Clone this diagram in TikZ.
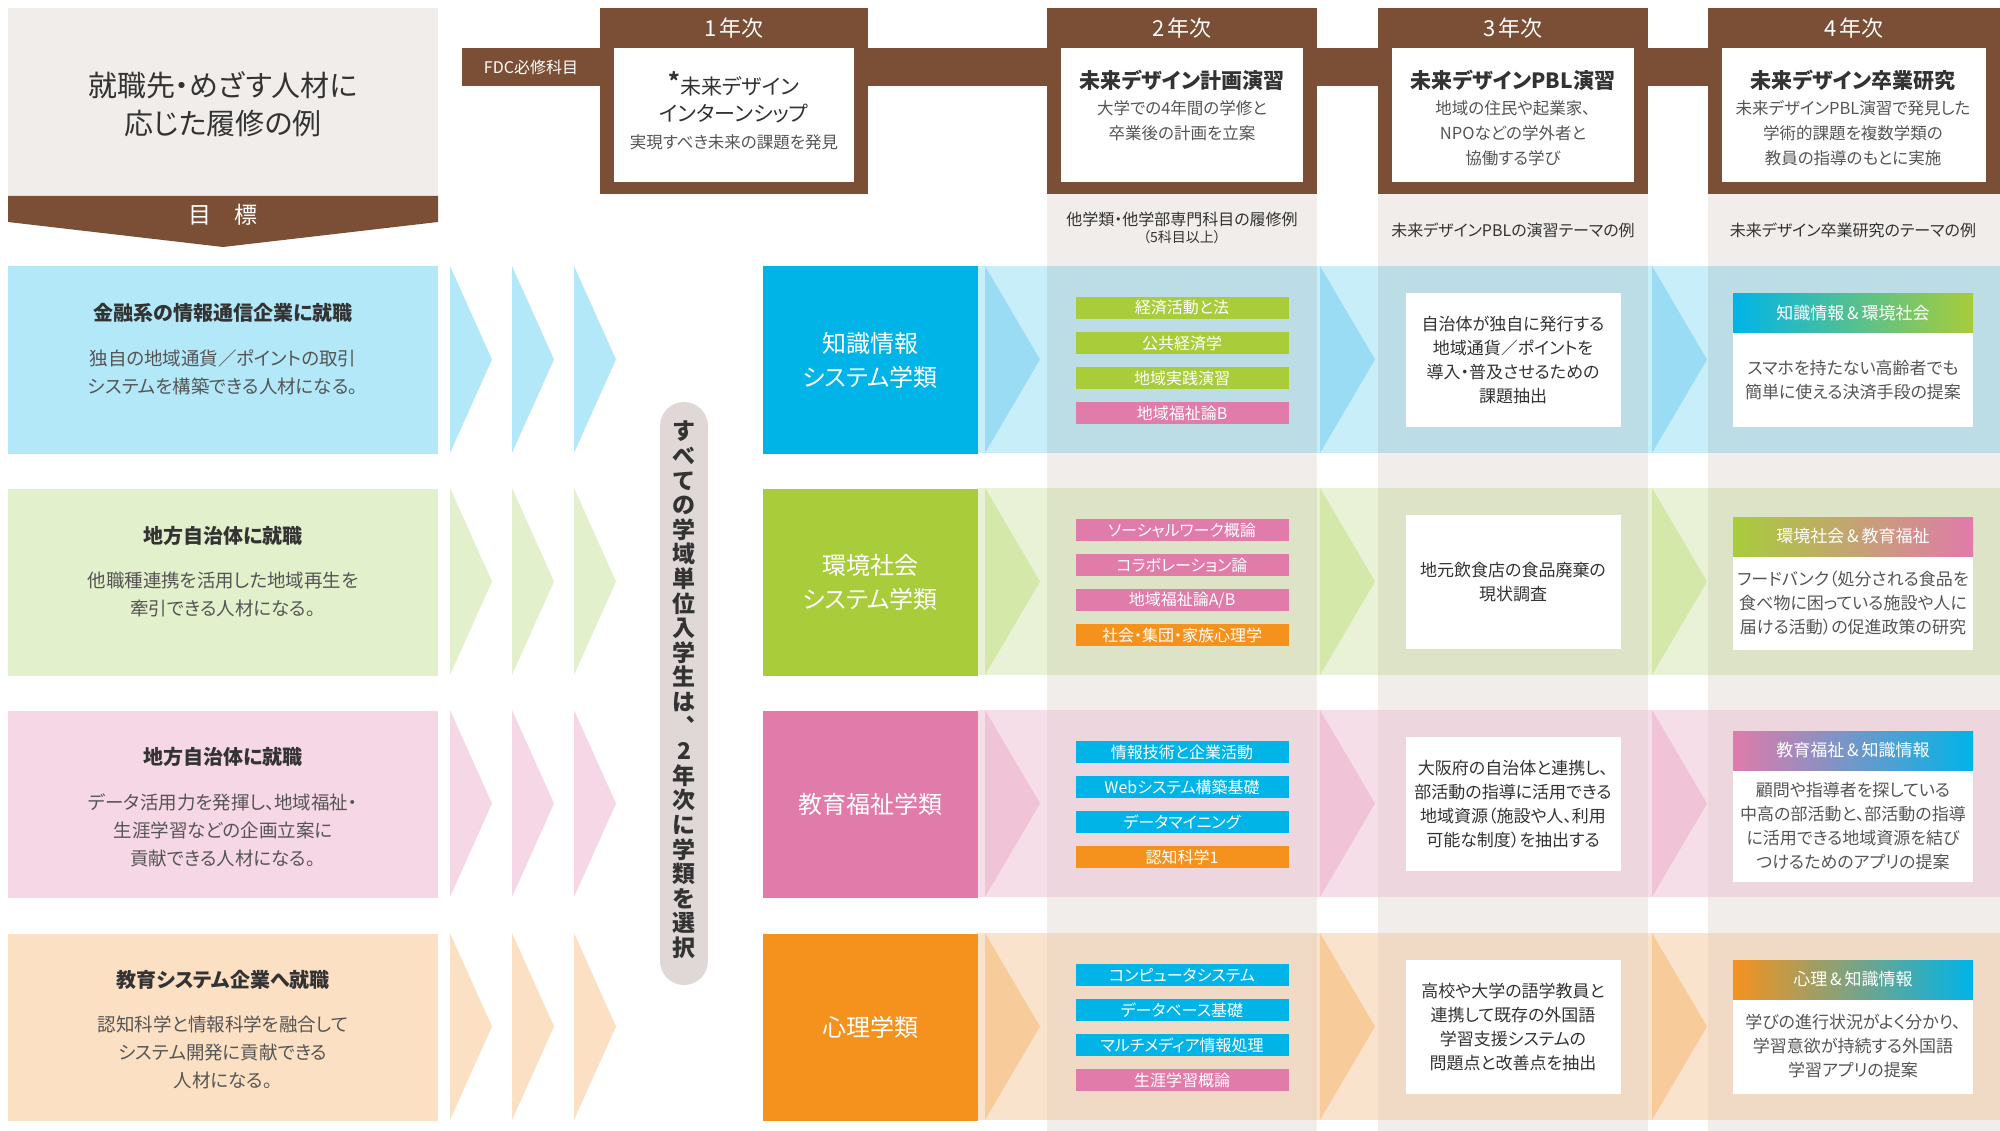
\documentclass[tikz,border=0pt]{standalone}
\usepackage{fontspec}
\setmainfont[RawFeature=+palt]{Noto Sans CJK JP}
\newfontfamily\plainjp{Noto Sans CJK JP}
\definecolor{brn}{HTML}{7B4F35}
\definecolor{beige}{HTML}{F1EDEA}
\definecolor{dtxt}{HTML}{333333}
\definecolor{gtxt}{HTML}{555555}
\definecolor{cC}{HTML}{00B4E8}\definecolor{cG}{HTML}{A8CC3A}\definecolor{cP}{HTML}{E07BAA}\definecolor{cO}{HTML}{F5921E}
\definecolor{lC}{HTML}{B3E8F8}\definecolor{lG}{HTML}{E3F0CC}\definecolor{lP}{HTML}{F6D7E5}\definecolor{lO}{HTML}{FCE0C3}
\definecolor{bC}{HTML}{C8EEF9}\definecolor{bG}{HTML}{E9F1D6}\definecolor{bP}{HTML}{F5DEE8}\definecolor{bO}{HTML}{FAE3CD}
\definecolor{iC}{HTML}{BCDDE6}\definecolor{iG}{HTML}{DDE3C6}\definecolor{iP}{HTML}{EED6DF}\definecolor{iO}{HTML}{F1DAC5}
\definecolor{aC}{HTML}{9ADCF4}\definecolor{aG}{HTML}{D3E8A9}\definecolor{aP}{HTML}{F0C3D7}\definecolor{aO}{HTML}{F8CC9A}
\definecolor{pill}{HTML}{E0D8D6}
\tikzset{
 fs/.style={font=\fontsize{#1}{#1}\selectfont},
 course/.style={minimum width=213, minimum height=22, inner sep=0, text=white, fs=16},
 whitebox/.style={fill=white, inner sep=0, text=dtxt, align=center},
 dept/.style={inner sep=0, text=white, align=center, font=\fontsize{24}{34}\selectfont, minimum width=215, minimum height=187},
 goal/.style={inner sep=0, minimum width=430, minimum height=187},
 yearhd/.style={text=white, fs=22},
 hdtitle/.style={text=dtxt, font=\bfseries\fontsize{21}{26}\selectfont},
 hdbody/.style={text=gtxt, align=center, font=\fontsize{16.5}{25}\selectfont},
 subhd/.style={text=dtxt, align=center, font=\fontsize{16}{17}\selectfont},
 gradhd/.style={minimum width=240, minimum height=38, inner sep=0, text=white, fs=17},
}
\begin{document}
\begin{tikzpicture}[x=1pt,y=-1pt]
\useasboundingbox (0,0) rectangle (2000,1131);
\fill[white] (0,0) rectangle (2000,1131);
% column bands
\foreach \a/\b in {1047/1317,1378/1648,1708/2000}{\fill[beige] (\a,188) rectangle (\b,1131);}
% rows: right bands
\foreach \t/\c in {266/C,488/G,710/P,933/O}{
  \fill[b\c] (977,\t) rectangle (2000,\t+187);
  \foreach \a/\b in {1047/1317,1378/1648,1708/2000}{\fill[i\c] (\a,\t) rectangle (\b,\t+187);}
  \foreach \s in {985,1320,1652}{\fill[a\c] (\s,\t) -- (\s+55,\t+93.5) -- (\s,\t+187) -- cycle;}
  \foreach \s in {450,512,574}{\fill[l\c] (\s,\t) -- (\s+42,\t+93.5) -- (\s,\t+187) -- cycle;}
}
% top-left
\fill[beige] (8,8) rectangle (438,196);
\node[text=dtxt, align=center, font=\fontsize{29}{38}\selectfont] (ttl) at (223,104) {就職先・めざす人材に\\応じた履修の例};
\fill[brn] (8,196) -- (438,196) -- (438,222) -- (223,247) -- (8,222) -- cycle;
\node[text=white, fs=23] (goalhd) at (223,215) {目\hspace{23pt}標};
% FDC band
\fill[brn] (462,48) rectangle (2000,86);
\node[text=white, fs=16] (fdc) at (531,67) {FDC必修科目};
% year headers
\foreach \a/\b/\n in {600/868/1,1047/1317/2,1378/1648/3,1708/2000/4}{
  \fill[brn] (\a,8) rectangle (\b,194);
  \fill[white] (\a+14,48) rectangle (\b-14,182);
  \node[yearhd] (yr\n) at ({(\a+\b)/2},28) {\n\,年次};
}
\node[text=dtxt, align=center, font=\fontsize{21}{27}\selectfont] (h1) at (734,97) {\raisebox{5pt}{\fontsize{22}{22}\selectfont\bfseries *}未来デザイン\\インターンシップ};
\node[hdbody] (h1b) at (734,142) {実現すべき未来の課題を発見};
\node[hdtitle] (h2) at (1182,80) {未来デザイン計画演習};
\node[hdbody, anchor=north] (h2b) at (1182,97) {大学での4年間の学修と\\卒業後の計画を立案};
\node[hdtitle] (h3) at (1513,80) {未来デザインPBL演習};
\node[hdbody, anchor=north] (h3b) at (1513,97) {地域の住民や起業家、\\NPOなどの学外者と\\協働する学び};
\node[hdtitle] (h4) at (1853,80) {未来デザイン卒業研究};
\node[hdbody, anchor=north] (h4b) at (1853,97) {未来デザインPBL演習で発見した\\学術的課題を複数学類の\\教員の指導のもとに実施};
\node[subhd] (s2) at (1182,228) {他学類・他学部専門科目の履修例\\{\fontsize{14}{15}\selectfont（5科目以上）}};
\node[subhd] (s3) at (1513,230) {未来デザインPBLの演習テーマの例};
\node[subhd] (s4) at (1853,230) {未来デザイン卒業研究のテーマの例};
% goals
\node[goal, fill=lC] (g1) at (223,360) {};
\node[goal, fill=lG] (g2) at (223,582) {};
\node[goal, fill=lP] (g3) at (223,804) {};
\node[goal, fill=lO] (g4) at (223,1027) {};
\tikzset{gt/.style={text=dtxt, font=\bfseries\fontsize{20}{24}\selectfont}, gb/.style={text=gtxt, align=center, font=\fontsize{18.5}{28}\selectfont, anchor=north}}
\node[gt] (g1t) at (223,313) {金融系の情報通信企業に就職};
\node[gb] (g1b) at (223,346) {独自の地域通貨／ポイントの取引\\システムを構築できる人材になる。};
\node[gt] (g2t) at (223,536) {地方自治体に就職};
\node[gb] (g2b) at (223,568) {他職種連携を活用した地域再生を\\牽引できる人材になる。};
\node[gt] (g3t) at (223,757) {地方自治体に就職};
\node[gb] (g3b) at (223,790) {データ活用力を発揮し、地域福祉・\\生涯学習などの企画立案に\\貢献できる人材になる。};
\node[gt] (g4t) at (223,980) {教育システム企業へ就職};
\node[gb] (g4b) at (223,1012) {認知科学と情報科学を融合して\\システム開発に貢献できる\\人材になる。};
% pill
\fill[pill, rounded corners=24] (660,402) rectangle (708,985);
\node[text=dtxt, align=center, font=\plainjp\bfseries\fontsize{23}{24.6}\selectfont] (pilltext) at (684,690) {す\\べ\\て\\の\\学\\域\\単\\位\\入\\学\\生\\は\\︑\\2\\年\\次\\に\\学\\類\\を\\選\\択};
% departments
\node[dept, fill=cC] (d1) at (870,360) {知識情報\\システム学類};
\node[dept, fill=cG] (d2) at (870,582) {環境社会\\システム学類};
\node[dept, fill=cP] (d3) at (870,804) {教育福祉学類};
\node[dept, fill=cO] (d4) at (870,1027) {心理学類};
% courses
\node[course, fill=cG] (c11) at (1182,308) {経済活動と法};
\node[course, fill=cG] (c12) at (1182,343) {公共経済学};
\node[course, fill=cG] (c13) at (1182,378) {地域実践演習};
\node[course, fill=cP] (c14) at (1182,413) {地域福祉論B};
\node[course, fill=cP] (c21) at (1182,530) {ソーシャルワーク概論};
\node[course, fill=cP] (c22) at (1182,565) {コラボレーション論};
\node[course, fill=cP] (c23) at (1182,600) {地域福祉論A/B};
\node[course, fill=cO] (c24) at (1182,635) {社会・集団・家族心理学};
\node[course, fill=cC] (c31) at (1182,752) {情報技術と企業活動};
\node[course, fill=cC] (c32) at (1182,787) {Webシステム構築基礎};
\node[course, fill=cC] (c33) at (1182,822) {データマイニング};
\node[course, fill=cO] (c34) at (1182,857) {認知科学1};
\node[course, fill=cC] (c41) at (1182,975) {コンピュータシステム};
\node[course, fill=cC] (c42) at (1182,1010) {データベース基礎};
\node[course, fill=cC] (c43) at (1182,1045) {マルチメディア情報処理};
\node[course, fill=cP] (c44) at (1182,1080) {生涯学習概論};
% PBL themes
\tikzset{pbl/.style={whitebox, minimum width=215, minimum height=134, font=\fontsize{17}{24}\selectfont}}
\node[pbl] (p1) at (1513,360) {自治体が独自に発行する\\地域通貨／ポイントを\\導入・普及させるための\\課題抽出};
\node[pbl] (p2) at (1513,582) {地元飲食店の食品廃棄の\\現状調査};
\node[pbl] (p3) at (1513,804) {大阪府の自治体と連携し、\\部活動の指導に活用できる\\地域資源（施設や人、利用\\可能な制度）を抽出する};
\node[pbl] (p4) at (1513,1027) {高校や大学の語学教員と\\連携して既存の外国語\\学習支援システムの\\問題点と改善点を抽出};
% graduation themes
\tikzset{grad/.style={whitebox, minimum width=240, inner sep=0, text=gtxt, font=\fontsize{17}{24}\selectfont}}
\fill[white] (1733,294) rectangle (1973,427);
\shade[left color=cC, right color=cG] (1733,294) rectangle (1973,333);
\node[gradhd] (t1) at (1853,313.5) {知識情報\,\&\,環境社会};
\node[grad] (r1) at (1853,380) {スマホを持たない高齢者でも\\簡単に使える決済手段の提案};
\fill[white] (1733,517) rectangle (1973,650);
\shade[left color=cG, right color=cP] (1733,517) rectangle (1973,556);
\node[gradhd] (t2) at (1853,536.5) {環境社会\,\&\,教育福祉};
\node[grad] (r2) at (1853,603) {フードバンク（処分される食品を\\食べ物に困っている施設や人に\\届ける活動）の促進政策の研究};
\fill[white] (1733,731) rectangle (1973,882);
\shade[left color=cP, right color=cC] (1733,731) rectangle (1973,770);
\node[gradhd] (t3) at (1853,750.5) {教育福祉\,\&\,知識情報};
\node[grad] (r3) at (1853,826) {顧問や指導者を探している\\中高の部活動と、部活動の指導\\に活用できる地域資源を結び\\つけるためのアプリの提案};
\fill[white] (1733,960) rectangle (1973,1094);
\shade[left color=cO, right color=cC] (1733,960) rectangle (1973,999);
\node[gradhd] (t4) at (1853,979.5) {心理\,\&\,知識情報};
\node[grad] (r4) at (1853,1046) {学びの進行状況がよく分かり、\\学習意欲が持続する外国語\\学習アプリの提案};
\end{tikzpicture}
\end{document}
